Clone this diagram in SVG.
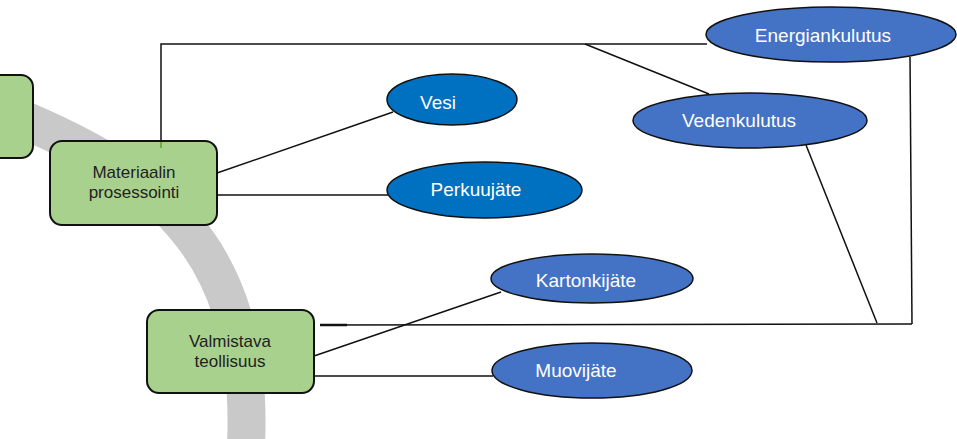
<svg xmlns="http://www.w3.org/2000/svg" width="957" height="439" viewBox="0 0 957 439">
<style>
.box{fill:#a9d18e;stroke:#111;stroke-width:2}
.ell1{fill:#0070c0;stroke:#111;stroke-width:1.5}
.ell2{fill:#4472c4;stroke:#111;stroke-width:1.5}
.bt{font-family:"Liberation Sans",Arial,sans-serif;font-size:17px;fill:#222;text-anchor:middle}
.et{font-family:"Liberation Sans",Arial,sans-serif;font-size:19px;fill:#fff;text-anchor:middle}
.conn line,.conn polyline{stroke:#111;stroke-width:1.5;fill:none}
</style>
<rect width="957" height="439" fill="#fff"/>
<path id="arc" d="M -5,108 C 150,170 255,240 246,445" fill="none" stroke="#c9c9c9" stroke-width="38"/>
<g id="leftbox"><rect class="box" x="-20" y="75" width="53" height="83" rx="12"/></g>
<g class="conn" id="connectors">
<polyline points="161,141 161,44 707,44"/>
<line x1="585" y1="44" x2="709" y2="94"/>
<line x1="910" y1="57" x2="912" y2="324"/>
<polyline points="320,325 912,324"/>
<line x1="806" y1="145" x2="877" y2="323"/>
<line x1="217" y1="173" x2="393" y2="112"/>
<line x1="217" y1="195" x2="388" y2="195"/>
<line x1="314" y1="356" x2="501" y2="292"/>
<line x1="314" y1="376" x2="493" y2="376"/>
<line x1="320" y1="325" x2="347" y2="325" style="stroke-width:2.5"/>
</g>
<g id="materiaalin">
<rect class="box" x="50" y="141" width="167" height="84" rx="12"/>
<line x1="161" y1="142" x2="161" y2="148" stroke="#70ad47" stroke-width="2"/>
<text class="bt" x="134" y="178">Materiaalin</text>
<text class="bt" x="134" y="198">prosessointi</text>
</g>
<g id="valmistava">
<rect class="box" x="147" y="310" width="167" height="83" rx="12"/>
<text class="bt" x="230" y="347">Valmistava</text>
<text class="bt" x="230" y="367">teollisuus</text>
</g>
<g id="vesi"><ellipse class="ell1" cx="452" cy="99.5" rx="65" ry="25.5"/><text class="et" x="438" y="109">Vesi</text></g>
<g id="perkuujate"><ellipse class="ell1" cx="484.5" cy="190" rx="97.5" ry="28"/><text class="et" x="476" y="196">Perkuujäte</text></g>
<g id="kartonkijate"><ellipse class="ell2" cx="592" cy="278.5" rx="101" ry="24.5"/><text class="et" x="586" y="287">Kartonkijäte</text></g>
<g id="muovijate"><ellipse class="ell2" cx="592" cy="370.5" rx="100" ry="27.5"/><text class="et" x="576" y="377">Muovijäte</text></g>
<g id="energiankulutus"><ellipse class="ell2" cx="831" cy="34.5" rx="125" ry="27.5"/><text class="et" x="823" y="42">Energiankulutus</text></g>
<g id="vedenkulutus"><ellipse class="ell2" cx="750" cy="120.5" rx="117" ry="27.5"/><text class="et" x="739" y="127">Vedenkulutus</text></g>
</svg>
